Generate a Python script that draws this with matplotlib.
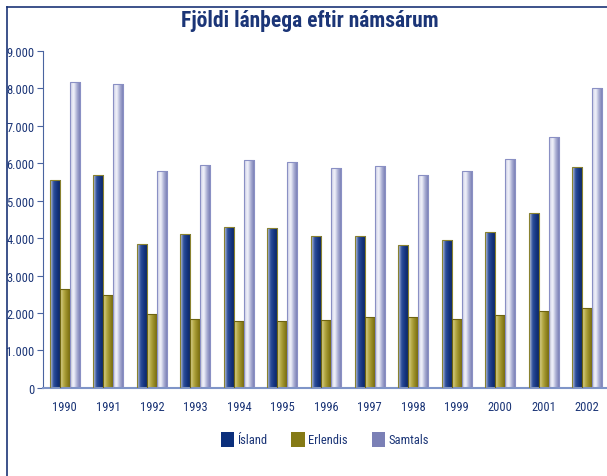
import matplotlib
matplotlib.use("Agg")
import matplotlib.pyplot as plt
import numpy as np
from matplotlib.colors import LinearSegmentedColormap
from matplotlib.lines import Line2D
from matplotlib.patches import Patch

plt.rcParams['font.family'] = ['Roboto Condensed', 'Liberation Sans', 'DejaVu Sans']

# gögn
years = ['1990', '1991', '1992', '1993', '1994', '1995', '1996',
         '1997', '1998', '1999', '2000', '2001', '2002']
island = [5560, 5690, 3850, 4110, 4300, 4270, 4060, 4060, 3820, 3950, 4170, 4670, 5900]
erlendis = [2630, 2480, 1980, 1850, 1790, 1790, 1820, 1900, 1900, 1840, 1950, 2060, 2140]
samtals = [8150, 8120, 5800, 5960, 6090, 6040, 5880, 5930, 5690, 5800, 6120, 6700, 8010]
series_names = ['Ísland', 'Erlendis', 'Samtals']
yticks = [0, 1000, 2000, 3000, 4000, 5000, 6000, 7000, 8000, 9000]
ytick_labels = ['0', '1.000', '2.000', '3.000', '4.000', '5.000', '6.000', '7.000', '8.000', '9.000']

navy = '#1b3577'
solid = ['#0b2f7c', '#857a15', '#7b80b6']
edges = ['#8a8230', '#6e6410', '#8a90c4']
grads = [
    ['#d0d4e4', '#2d4f9c', '#15347e', '#0a2460'],
    ['#e0d9a0', '#b5a945', '#918520', '#706408'],
    ['#c8cbe4', '#f4f5fb', '#a4a8d0', '#7076ae'],
]

fig = plt.figure(figsize=(6.07, 4.77), dpi=100)
ax = fig.add_axes([0.0708, 0.1845, 0.929, 0.7075])

x = np.arange(len(years))
w = 0.23
data = [island, erlendis, samtals]
for i, vals in enumerate(data):
    bars = ax.bar(x + (i - 1) * w, vals, width=w, facecolor='none',
                  edgecolor=edges[i], linewidth=0.8, zorder=3)
    cmap = LinearSegmentedColormap.from_list('g%d' % i, grads[i])
    grad = np.linspace(0, 1, 64).reshape(1, -1)
    for b in bars:
        x0, y0 = b.get_x(), b.get_y()
        im = ax.imshow(grad, cmap=cmap, aspect='auto', zorder=2,
                       extent=[x0, x0 + b.get_width(), y0, y0 + b.get_height()],
                       interpolation='bicubic')
        im.set_clip_path(b)

ax.set_xlim(-0.5, 12.45)
ax.set_ylim(0, 9000)
ax.set_yticks(yticks)
ax.set_yticklabels(ytick_labels)
ax.set_xticks(x)
ax.set_xticklabels(years)
ax.tick_params(axis='x', length=0, pad=9, labelsize=9, labelcolor=navy)
ax.tick_params(axis='y', length=4, width=0.8, color='#4a64a0', pad=2,
               labelsize=9, labelcolor=navy)
for s in ['top', 'right']:
    ax.spines[s].set_visible(False)
ax.spines['left'].set_color('#4a64a0')
ax.spines['bottom'].set_color('#7f95c8')
ax.spines['bottom'].set_linewidth(1.5)

fig.text(0.51, 0.955, 'Fjöldi lánþega eftir námsárum', ha='center', va='center',
         fontsize=15.5, fontweight='bold', color=navy)

# rammi
fig.add_artist(Line2D([7 / 607, 7 / 607], [0, 1 - 8 / 477], color=navy, lw=1.2))
fig.add_artist(Line2D([7 / 607, 1], [1 - 8 / 477, 1 - 8 / 477], color=navy, lw=1.2))

handles = [Patch(facecolor=c, edgecolor='none') for c in solid]
fig.legend(handles, series_names, loc='center', bbox_to_anchor=(0.535, 0.077),
           ncol=3, frameon=False, fontsize=9, labelcolor=navy,
           handlelength=1.1, handleheight=1.5, handletextpad=0.25, columnspacing=1.9)

fig.savefig('out.png', dpi=100)
